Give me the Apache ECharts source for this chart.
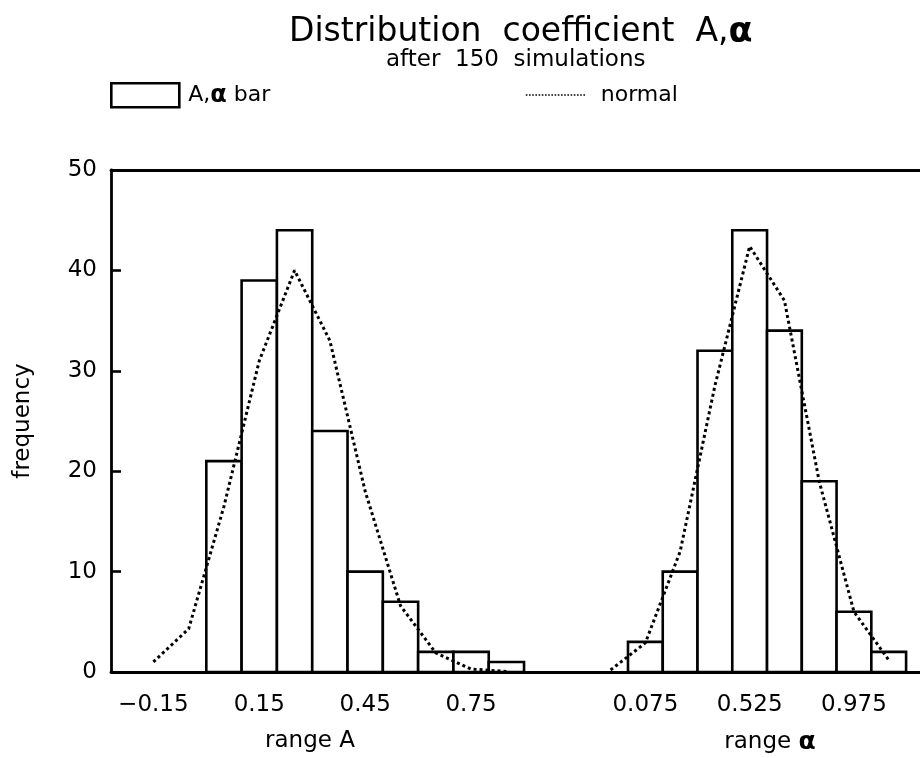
<!DOCTYPE html>
<html>
<head>
<meta charset="utf-8">
<script src="https://cdn.jsdelivr.net/npm/echarts@6/dist/echarts.min.js"></script>
<style>
  html, body { margin: 0; padding: 0; background: #fff; }
  #chart { width: 920px; height: 758px; }
</style>
</head>
<body>
<div id="chart"></div>
<script>
// Histogram of coefficient A (bins of width 0.1) and alpha (bins of width 0.15)
const binWidthA = 0.1;
const binCentersA = [0.05, 0.15, 0.25, 0.35, 0.45, 0.55, 0.65, 0.75, 0.85];
const countsA = [21, 39, 44, 24, 10, 7, 2, 2, 1];

const binWidthAlpha = 0.15;
const binCentersAlpha = [0.075, 0.225, 0.375, 0.525, 0.675, 0.825, 0.975, 1.125];
const countsAlpha = [3, 10, 32, 44, 34, 19, 6, 2];

// Fitted normal curves, evaluated at the bin centres
const normalXA = [-0.15, -0.05, 0.05, 0.15, 0.25, 0.35, 0.45, 0.55, 0.65, 0.75, 0.85];
const normalA = [1.0, 4.3, 16.5, 31, 40, 33, 18, 6.6, 1.9, 0.3, 0.05];
const normalXAlpha = [-0.075, 0.075, 0.225, 0.375, 0.525, 0.675, 0.825, 0.975, 1.125];
const normalAlpha = [0.2, 2.9, 12, 28.5, 42.4, 37, 19, 6, 1.2];

// Tick labels
const ticksA = [-0.15, 0.15, 0.45, 0.75];
const ticksAlpha = [0.075, 0.525, 0.975];
const freqTicks = [0, 10, 20, 30, 40, 50];

const FONT = 'DejaVu Sans';
const BAR_NAME = 'A,α bar';
const LINE_NAME = 'normal';
const DOTS = { color: '#000', width: 3, type: [3, 3] };

const fmtTick = v => (v < 0 ? '\u2212' + String(Math.abs(v)) : String(v));

function histRect(params, api) {
  const p0 = api.coord([api.value(0), api.value(2)]);
  const p1 = api.coord([api.value(1), 0]);
  return {
    type: 'rect',
    shape: { x: p0[0], y: p0[1], width: p1[0] - p0[0], height: p1[1] - p0[1] },
    style: { fill: '#fff', stroke: '#000', lineWidth: 2.6 }
  };
}

const axisLineStyle = { show: true, onZero: false, lineStyle: { color: '#000', width: 2.8 } };
const labelStyle = { color: '#000', fontFamily: FONT, fontSize: 23 };

function bottomAxis(gridIndex, min, max, ticks, name, namePad) {
  return {
    gridIndex, type: 'value', position: 'bottom', min, max,
    axisLine: axisLineStyle,
    axisTick: { show: false },
    splitLine: { show: false },
    axisLabel: Object.assign({ customValues: ticks, formatter: fmtTick, margin: 22 }, labelStyle),
    name, nameLocation: 'middle', nameGap: 58,
    nameTextStyle: { color: '#000', fontFamily: FONT, fontSize: 23, padding: namePad,
      rich: { a: { fontFamily: FONT, fontSize: 25, fontWeight: 'bold', color: '#000' } } }
  };
}
function topAxis(gridIndex, min, max) {
  return {
    gridIndex, type: 'value', position: 'top', min, max,
    axisLine: axisLineStyle, axisTick: { show: false },
    axisLabel: { show: false }, splitLine: { show: false }
  };
}

const chart = echarts.init(document.getElementById('chart'), null, { renderer: 'canvas' });
chart.setOption({
  animation: false,
  backgroundColor: '#fff',
  title: [
    {
      text: 'Distribution  coefficient  A,{a|α}',
      left: 284, top: 10,
      textStyle: {
        fontFamily: FONT, fontSize: 33, fontWeight: 'normal', color: '#000',
        rich: { a: { fontFamily: FONT, fontSize: 35, fontWeight: 'bold', color: '#000' } }
      }
    },
    {
      text: 'after  150  simulations',
      left: 381, top: 44,
      textStyle: { fontFamily: FONT, fontSize: 23, fontWeight: 'normal', color: '#000' }
    }
  ],
  legend: [
    {
      left: 105, top: 77, itemWidth: 68, itemHeight: 24,
      data: [{ name: BAR_NAME, icon: 'rect', itemStyle: { color: '#fff', borderColor: '#000', borderWidth: 2.6 } }],
      formatter: () => 'A,{a|α} bar',
      textStyle: { fontFamily: FONT, fontSize: 22, color: '#000', padding: [0, 0, 0, 4],
        rich: { a: { fontFamily: FONT, fontSize: 24, fontWeight: 'bold', color: '#000' } } }
    },
    {
      left: 520, top: 79, itemWidth: 60, itemHeight: 20,
      data: [{ name: LINE_NAME }],
      itemStyle: { opacity: 0 },
      lineStyle: { color: '#000', width: 1.6, type: [1.6, 1.6] },
      textStyle: { fontFamily: FONT, fontSize: 22, color: '#000', padding: [0, 0, 0, 10] }
    }
  ],
  grid: [
    { left: 111, top: 170, width: 466, bottom: 86, outerBoundsMode: 'none', containLabel: false },
    { left: 577, top: 170, right: 0, bottom: 86, outerBoundsMode: 'none', containLabel: false }
  ],
  xAxis: [
    bottomAxis(0, -0.27, 1.05, ticksA, 'range A', [0, 68, 0, 0]),
    bottomAxis(1, -0.22, 1.26, ticksAlpha, 'range {a|α}', [0, 0, 0, 43]),
    topAxis(0, -0.27, 1.05),
    topAxis(1, -0.22, 1.26)
  ],
  yAxis: [
    {
      gridIndex: 0, type: 'value', min: freqTicks[0], max: freqTicks[freqTicks.length - 1], interval: 10,
      axisLine: axisLineStyle,
      axisTick: { show: true, inside: true, length: 10, lineStyle: { color: '#000', width: 2.6 } },
      splitLine: { show: false },
      axisLabel: Object.assign({ margin: 14 }, labelStyle),
      name: 'frequency', nameLocation: 'middle', nameGap: 76,
      nameTextStyle: { color: '#000', fontFamily: FONT, fontSize: 23 }
    },
    { gridIndex: 1, type: 'value', min: 0, max: 50, show: false }
  ],
  series: [
    {
      name: BAR_NAME, type: 'custom', xAxisIndex: 0, yAxisIndex: 0,
      renderItem: histRect, encode: { x: [0, 1], y: 2 },
      itemStyle: { color: '#fff', borderColor: '#000', borderWidth: 2.6 },
      data: binCentersA.map((c, i) => [c - binWidthA / 2, c + binWidthA / 2, countsA[i]]),
      z: 2
    },
    {
      name: BAR_NAME, type: 'custom', xAxisIndex: 1, yAxisIndex: 1,
      renderItem: histRect, encode: { x: [0, 1], y: 2 },
      itemStyle: { color: '#fff', borderColor: '#000', borderWidth: 2.6 },
      data: binCentersAlpha.map((c, i) => [c - binWidthAlpha / 2, c + binWidthAlpha / 2, countsAlpha[i]]),
      z: 2
    },
    {
      name: LINE_NAME, type: 'line', xAxisIndex: 0, yAxisIndex: 0, symbol: 'none',
      lineStyle: DOTS, itemStyle: { color: '#000' },
      data: normalXA.map((x, i) => [x, normalA[i]]),
      z: 5
    },
    {
      name: LINE_NAME, type: 'line', xAxisIndex: 1, yAxisIndex: 1, symbol: 'none',
      lineStyle: DOTS, itemStyle: { color: '#000' },
      data: normalXAlpha.map((x, i) => [x, normalAlpha[i]]),
      z: 5
    }
  ]
});
</script>
</body>
</html>
